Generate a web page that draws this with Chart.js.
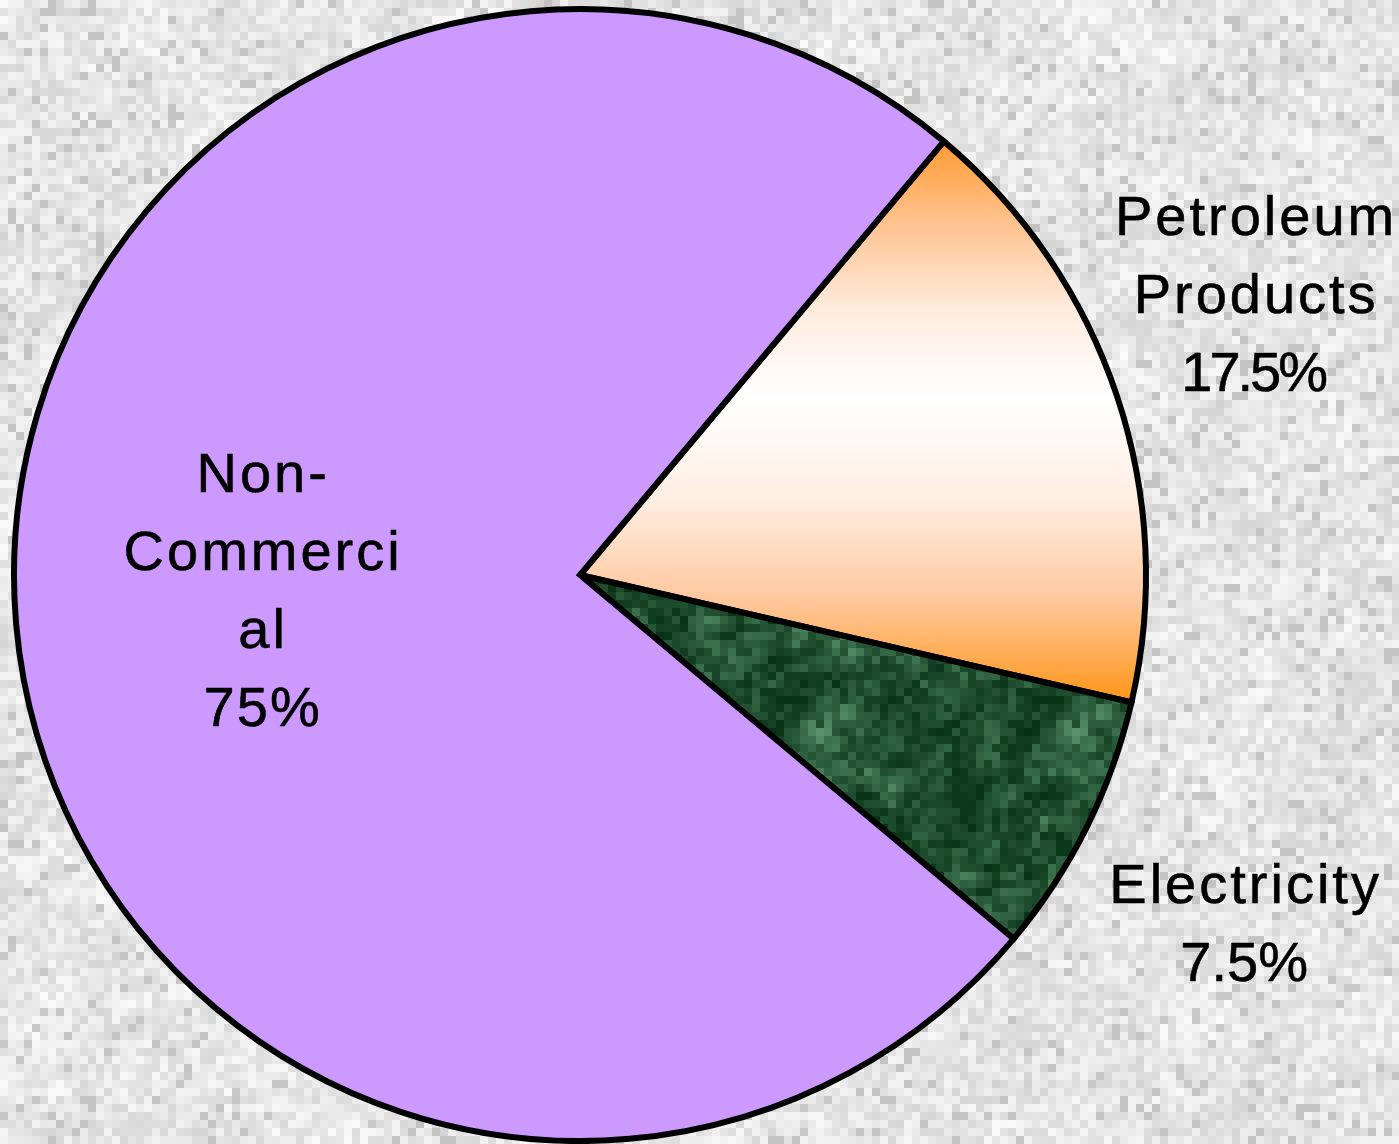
<!DOCTYPE html>
<html><head><meta charset="utf-8">
<script src="https://cdn.jsdelivr.net/npm/chart.js@4"></script>
<style>html,body{margin:0;padding:0;overflow:hidden;background:#e6e6e6}#wrap{width:1399px;height:1144px;position:relative}canvas{display:block}</style>
</head><body><div id="wrap"><canvas id="c" width="1399" height="1144"></canvas></div>
<script>
// ---- data ----
const categories = ['Petroleum Products', 'Electricity', 'Non-Commercial'];
const shares = [17.5, 7.5, 75];
const labelLines = [['Petroleum', 'Products'], ['Electricity'], ['Non-', 'Commerci', 'al']];
const sliceColors = ['#FF9A2A', '#1E4F2E', '#CC99FF'];

// ---- deterministic texture helpers (decoration only) ----
function hash(x, y, s) {
  let n = Math.imul(x, 374761393) + Math.imul(y, 668265263) + Math.imul(s, 1442695041);
  n = Math.imul(n ^ (n >>> 13), 1274126177);
  n = n ^ (n >>> 16);
  return (n >>> 0) / 4294967296;
}
function vnoise(x, y, cell, s) {
  const gx = Math.floor(x / cell), gy = Math.floor(y / cell);
  const fx = x / cell - gx, fy = y / cell - gy;
  const sx = fx * fx * (3 - 2 * fx), sy = fy * fy * (3 - 2 * fy);
  const a = hash(gx, gy, s), b = hash(gx + 1, gy, s), c = hash(gx, gy + 1, s), d = hash(gx + 1, gy + 1, s);
  return (a * (1 - sx) + b * sx) * (1 - sy) + (c * (1 - sx) + d * sx) * sy;
}
function makeBackground(w, h) {
  const cv = document.createElement('canvas'); cv.width = w; cv.height = h;
  const g = cv.getContext('2d');
  const bw = 8, bh = 8;
  for (let y = 0; y < h; y += bh) {
    for (let x = 0; x < w; x += bw) {
      const r = hash(x / bw | 0, y / bh | 0, 7);
      const m = vnoise(x, y, 45, 3);
      let v = 252 - r * 34 - m * 12;
      if (r > 0.93) v -= 18;
      v = Math.max(195, Math.min(255, Math.round(v)));
      g.fillStyle = 'rgb(' + v + ',' + v + ',' + v + ')';
      g.fillRect(x, y, bw, bh);
    }
  }
  return cv;
}
function makeMarble() {
  const size = 256, cell = 8;
  const cv = document.createElement('canvas'); cv.width = size; cv.height = size;
  const g = cv.getContext('2d');
  const dark = [4, 46, 18], light = [100, 160, 120];
  for (let y = 0; y < size; y += cell) {
    for (let x = 0; x < size; x += cell) {
      const n1 = vnoise(x, y, 64, 11);
      const n2 = vnoise(x, y, 24, 12);
      const n3 = hash(x / cell | 0, y / cell | 0, 13);
      let t = n1 * 0.2 + n2 * 0.4 + n3 * 0.4;
      t = Math.pow(Math.max(0, t - 0.05) / 0.95, 1.6);
      const c = dark.map((d, i) => Math.round(d + (light[i] - d) * t));
      g.fillStyle = 'rgb(' + c.join(',') + ')';
      g.fillRect(x, y, cell, cell);
    }
  }
  return cv;
}

const bgCanvas = makeBackground(1399, 1144);
const marbleCanvas = makeMarble();
const START_DEG = 40;

function sliceFill(ctx) {
  const chart = ctx.chart, area = chart.chartArea, i = ctx.dataIndex;
  if (!area) return sliceColors[i];
  if (i === 0) {
    const cx = (area.left + area.right) / 2, cy = (area.top + area.bottom) / 2;
    const r = Math.min(area.right - area.left, area.bottom - area.top) / 2;
    const total = shares.reduce((a, b) => a + b, 0);
    const a0 = (START_DEG - 90) * Math.PI / 180;
    const a1 = a0 + shares[0] / total * 2 * Math.PI;
    const y0 = cy + r * Math.sin(a0), y1 = cy + r * Math.sin(a1);
    const gr = chart.ctx.createLinearGradient(0, y0, 0, y1);
    gr.addColorStop(0, '#FF9A30');
    gr.addColorStop(0.14, '#FFC08A');
    gr.addColorStop(0.3, '#FFEBDD');
    gr.addColorStop(0.46, '#FFFFFF');
    gr.addColorStop(0.64, '#FFEEE2');
    gr.addColorStop(0.82, '#FFC79C');
    gr.addColorStop(1, '#FF9414');
    return gr;
  }
  if (i === 1) return chart.ctx.createPattern(marbleCanvas, 'repeat');
  return sliceColors[i];
}

const labelPlacement = [
  { f: 1.292, da: -4.2 },
  { f: 1.324, da: 1.1 },
  { f: 0.563, da: 2.5 }
];
const wordSpacing = 3.0;
const pctSpacing = [-3, 0, 2];

function drawSpaced(ctx, text, cx, y, sp) {
  const chars = Array.from(text);
  const ws = chars.map(ch => ctx.measureText(ch).width);
  const total = ws.reduce((a, b) => a + b, 0) + sp * (chars.length - 1);
  let x = cx - total / 2;
  chars.forEach((ch, k) => { ctx.fillText(ch, x, y); ctx.strokeText(ch, x, y); x += ws[k] + sp; });
}

const bgPlugin = {
  id: 'bg',
  beforeDraw(chart) { chart.ctx.drawImage(bgCanvas, 0, 0); }
};
const labelPlugin = {
  id: 'sliceLabels',
  afterDatasetsDraw(chart) {
    const ctx = chart.ctx;
    const meta = chart.getDatasetMeta(0);
    ctx.save();
    ctx.font = '56px "Liberation Sans", Arial, sans-serif';
    ctx.fillStyle = '#000';
    ctx.strokeStyle = '#000';
    ctx.lineWidth = 0.6;
    ctx.textAlign = 'left';
    ctx.textBaseline = 'alphabetic';
    const lh = 78;
    meta.data.forEach((arc, i) => {
      const p = arc.getProps(['x', 'y', 'startAngle', 'endAngle', 'outerRadius'], true);
      const mid = (p.startAngle + p.endAngle) / 2 + labelPlacement[i].da * Math.PI / 180;
      const ax = p.x + Math.cos(mid) * p.outerRadius * labelPlacement[i].f;
      const ay = p.y + Math.sin(mid) * p.outerRadius * labelPlacement[i].f;
      const lines = labelLines[i].concat([shares[i] + '%']);
      const first = ay - (lines.length - 1) * lh / 2 + 20;
      lines.forEach((t, k) => {
        const sp = k === lines.length - 1 ? pctSpacing[i] : wordSpacing;
        drawSpaced(ctx, t, ax, first + k * lh, sp);
      });
    });
    ctx.restore();
  }
};

new Chart(document.getElementById('c'), {
  type: 'pie',
  data: {
    labels: categories,
    datasets: [{
      data: shares,
      backgroundColor: sliceFill,
      borderColor: '#000000',
      borderWidth: 6,
      borderJoinStyle: 'miter',
      borderAlign: 'center'
    }]
  },
  options: {
    responsive: false,
    animation: false,
    rotation: START_DEG,
    layout: { padding: { left: 11, right: 250, top: 6, bottom: 0 } },
    plugins: { legend: { display: false }, tooltip: { enabled: false } },
    events: []
  },
  plugins: [bgPlugin, labelPlugin]
});
</script>
</body></html>
